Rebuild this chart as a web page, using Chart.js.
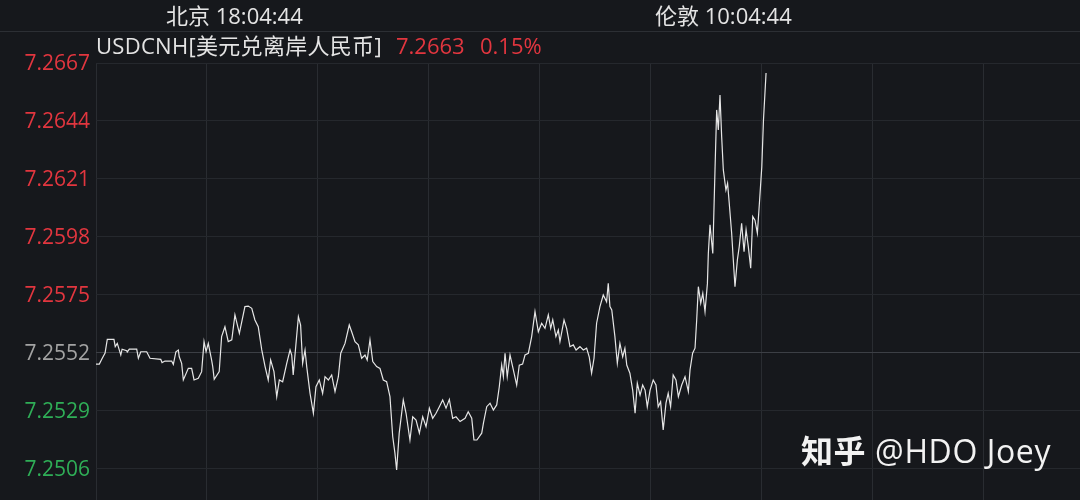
<!DOCTYPE html>
<html>
<head>
<meta charset="utf-8">
<script src="https://cdn.jsdelivr.net/npm/chart.js@4/dist/chart.umd.min.js"></script>
<style>
  html, body { margin: 0; padding: 0; background: #16181c; }
  #wrap { position: relative; width: 1080px; height: 500px; overflow: hidden; background: #16181c; }
  canvas { position: absolute; left: 0; top: 0; }
  .t { position: absolute; white-space: pre; font-family: "Open Sans", "Noto Sans CJK SC", sans-serif; font-size: 22px; line-height: 22px; color: #e4e4e4; }
  .red { color: #e2363f; }
  .sep { position: absolute; left: 0; top: 31px; width: 1080px; height: 1px; background: #2c2f34; }
  .wm { position: absolute; white-space: pre; font-family: "Open Sans", "Noto Sans CJK SC", sans-serif; font-size: 32px; line-height: 32px; letter-spacing: 0.6px; color: #f2f2f2; }
  .wm b { font-family: "Noto Sans CJK SC", sans-serif; font-weight: 700; }
</style>
</head>
<body>
<div id="wrap">
  <canvas id="c" width="1080" height="500"></canvas>
  <div class="sep"></div>
  <div class="t" style="left:166px; top:4px;">北京 18:04:44</div>
  <div class="t" style="left:655px; top:4px;">伦敦 10:04:44</div>
  <div class="t" style="left:96px; top:34px; letter-spacing:0.3px;">USDCNH[美元兑离岸人民币]</div>
  <div class="t red" style="left:396px; top:34px;">7.2663</div>
  <div class="t red" style="left:480px; top:34px;">0.15%</div>
  <div class="wm" style="left:801px; top:433px;"><b>知乎</b> @HDO Joey</div>
</div>
<script>
// ---- data (minutes since session start, price) ----
const minutes = [
  0,1.8,3.1,4.9,6.1,9.7,10.4,11.5,13.4,14.1,16.6,16.9,18.0,22.0,22.9,24.2,27.4,29.2,35.0,35.7,
  37.3,40.9,41.8,43.2,44.5,45.0,46.3,47.2,49.9,51.7,53.0,55.3,57.1,58.4,59.5,60.7,62.5,63.1,63.9,66.6,
  67.9,69.7,71.5,73.4,75.1,77.5,80.5,82.3,84.2,85.9,87.7,89.6,91.4,93.1,94.4,96.2,97.7,99.1,100.9,103.1,
  104.9,105.8,106.6,109.4,110.6,111.7,113.0,113.9,115.7,117.5,118.9,120.7,122.5,123.8,125.6,127.4,129.2,131.0,132.3,134.6,
  136.9,138.2,140.0,141.8,143.6,145.4,146.6,148.1,149.6,151.7,153.5,155.3,157.1,158.9,160.4,161.6,162.5,163.9,166.1,167.6,
  169.7,171.2,173.0,174.8,176.6,178.4,180.2,182.0,183.8,185.6,187.4,189.2,191.0,192.8,194.6,196.8,199.5,201.2,203.1,204.3,
  205.9,208.5,209.4,211.2,213.0,214.8,216.6,218.0,219.3,220.2,221.1,222.3,223.8,225.6,227.4,228.8,230.6,231.9,233.7,235.5,
  237.3,239.1,240.9,242.7,244.5,245.8,246.9,248.6,249.9,250.8,253.0,254.4,256.2,258.0,259.5,261.6,263.4,265.2,266.6,267.9,
  269.2,270.6,272.4,274.2,276.0,276.9,277.8,278.8,280.5,281.8,283.2,284.7,285.9,286.9,288.6,290.1,291.4,292.6,294.1,295.5,
  296.8,298.0,299.5,301.2,302.7,303.9,305.2,306.6,308.1,309.3,310.6,312.0,313.5,314.8,316.6,318.4,320.2,321.1,322.5,323.8,
  324.7,325.6,326.9,328.0,329.2,330.5,331.0,331.9,333.4,334.6,335.5,336.4,337.3,338.2,339.1,340.5,341.4,342.3,343.6,344.5,
  345.4,346.7,347.7,349.0,350.3,351.4,352.6,353.9,355.0,356.2,357.5,358.6,359.9,360.8,362.2
];
const prices = [
  7.25476,7.25476,7.25495,7.25520,7.25574,7.25574,7.25545,7.25558,7.25512,7.25535,7.25529,7.25524,7.25535,7.25535,7.25499,7.25525,7.25525,7.25499,7.25495,7.25482,
  7.25488,7.25488,7.25475,7.25525,7.25532,7.25505,7.25479,7.25413,7.25459,7.25459,7.25413,7.25420,7.25446,7.25565,7.25525,7.25558,7.25492,7.25466,7.25416,7.25446,
  7.25585,7.25624,7.25565,7.25572,7.25671,7.25598,7.25704,7.25706,7.25697,7.25651,7.25624,7.25532,7.25466,7.25413,7.25492,7.25446,7.25347,7.25413,7.25406,7.25479,
  7.25532,7.25512,7.25433,7.25664,7.25631,7.25479,7.25532,7.25466,7.25360,7.25281,7.25386,7.25413,7.25360,7.25426,7.25413,7.25433,7.25367,7.25426,7.25519,7.25558,
  7.25631,7.25604,7.25565,7.25552,7.25499,7.25512,7.25492,7.25572,7.25486,7.25466,7.25459,7.25413,7.25406,7.25347,7.25188,7.25122,7.25056,7.25202,7.25334,7.25281,
  7.25175,7.25267,7.25254,7.25202,7.25267,7.25228,7.25301,7.25261,7.25281,7.25307,7.25334,7.25301,7.25336,7.25261,7.25267,7.25248,7.25261,7.25287,7.25261,7.25175,
  7.25175,7.25202,7.25241,7.25307,7.25321,7.25294,7.25314,7.25386,7.25472,7.25426,7.25519,7.25426,7.25512,7.25453,7.25393,7.25472,7.25476,7.25512,7.25519,7.25585,
  7.25684,7.25604,7.25638,7.25618,7.25671,7.25618,7.25651,7.25585,7.25611,7.25565,7.25651,7.25618,7.25545,7.25552,7.25532,7.25545,7.25532,7.25539,7.25505,7.25440,
  7.25499,7.25638,7.25704,7.25750,7.25723,7.25796,7.25704,7.25691,7.25585,7.25479,7.25558,7.25505,7.25539,7.25472,7.25440,7.25373,7.25281,7.25400,7.25353,7.25393,
  7.25373,7.25307,7.25373,7.25413,7.25393,7.25307,7.25327,7.25215,7.25321,7.25360,7.25307,7.25433,7.25413,7.25347,7.25393,7.25426,7.25367,7.25453,7.25519,7.25539,
  7.25651,7.25783,7.25717,7.25757,7.25684,7.25796,7.25915,7.26028,7.25915,7.26246,7.26484,7.26404,7.26543,7.26378,7.26246,7.26166,7.26193,7.26114,7.25995,7.25889,
  7.25783,7.25889,7.25942,7.26034,7.25922,7.26008,7.25942,7.25856,7.26061,7.26047,7.25995,7.26114,7.26259,7.26444,7.2663
];
const tickValues = [7.2667, 7.2644, 7.2621, 7.2598, 7.2575, 7.2552, 7.2529, 7.2506];
const prevClose = 7.2552;
const yMax = 7.2667;
const yMin = 7.24937;
const xMax = 531.9;
const xStep = 60;

const points = minutes.map((m, i) => ({ x: m, y: prices[i] }));

new Chart(document.getElementById('c'), {
  type: 'line',
  data: {
    datasets: [{
      data: points,
      borderColor: '#e6e6e6',
      borderWidth: 1.2,
      pointRadius: 0,
      tension: 0,
      fill: false
    }]
  },
  options: {
    responsive: false,
    animation: false,
    devicePixelRatio: 1,
    layout: { padding: { top: 63, left: 0, right: 0, bottom: 0 } },
    plugins: { legend: { display: false }, tooltip: { enabled: false } },
    scales: {
      x: {
        type: 'linear',
        min: 0,
        max: xMax,
        ticks: { display: false, stepSize: xStep },
        grid: { color: '#292c31', lineWidth: 1, drawTicks: false },
        border: { display: false },
        afterFit: (axis) => { axis.height = 0; axis.paddingLeft = 0; axis.paddingRight = 0; }
      },
      y: {
        type: 'linear',
        min: yMin,
        max: yMax,
        afterBuildTicks: (axis) => { axis.ticks = tickValues.map(v => ({ value: v })); },
        ticks: {
          padding: 6,
          labelOffset: 1.5,
          font: { family: '"Open Sans", "Noto Sans CJK SC", sans-serif', size: 21 },
          color: (ctx) => {
            const v = ctx.tick.value;
            if (Math.abs(v - prevClose) < 1e-6) return '#a3a3a3';
            return v > prevClose ? '#e2363f' : '#2fae57';
          },
          callback: (v) => Number(v).toFixed(4)
        },
        grid: {
          drawTicks: false,
          color: (ctx) => (ctx.tick && Math.abs(ctx.tick.value - prevClose) < 1e-6) ? '#3c3f45' : '#25282d',
          lineWidth: 1
        },
        border: { display: false },
        afterFit: (axis) => { axis.width = 96; axis.paddingTop = 0; axis.paddingBottom = 0; }
      }
    }
  }
});
</script>
</body>
</html>
